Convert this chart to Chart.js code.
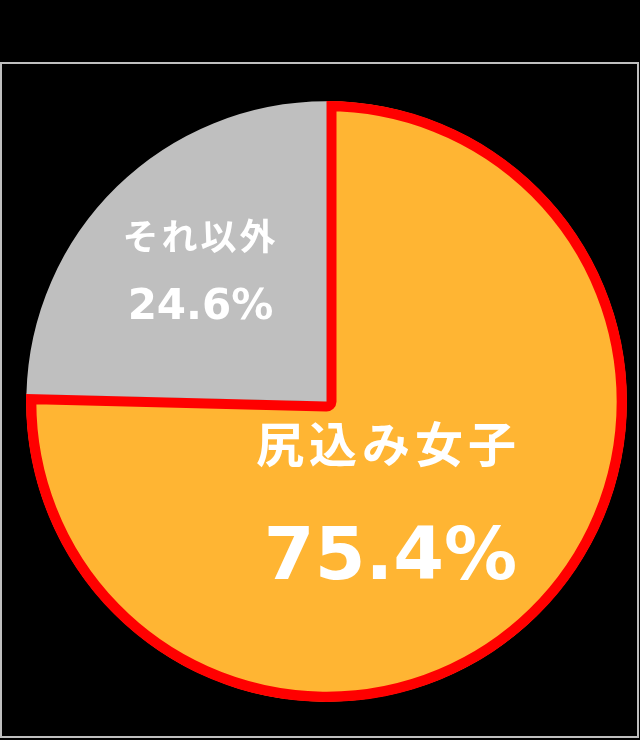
<!DOCTYPE html>
<html>
<head>
<meta charset="utf-8">
<script src="https://cdn.jsdelivr.net/npm/chart.js@4/dist/chart.umd.min.js"></script>
<style>
html,body{margin:0;padding:0;background:#000;}
#wrap{width:640px;height:740px;}
canvas{display:block;}
</style>
</head>
<body>
<div id="wrap"><canvas id="c" width="640" height="740"></canvas></div>
<script>
const categories = ["尻込み女子", "それ以外"];
const values = [75.4, 24.6];
const sliceColors = ["#FFB533", "#BFBFBF"];
const sliceBorders = ["#FF0000", "#BFBFBF"];
const sliceBorderWidths = [10, 0];

const framePlugin = {
  id: 'frame',
  beforeDraw(chart) {
    const ctx = chart.ctx;
    ctx.save();
    ctx.fillStyle = '#000';
    ctx.fillRect(0, 0, chart.width, chart.height);
    ctx.strokeStyle = '#BFBFBF';
    ctx.lineWidth = 2;
    ctx.strokeRect(1, 63, 637, 674);
    ctx.restore();
  }
};

const labelPlugin = {
  id: 'sliceLabels',
  afterDatasetsDraw(chart) {
    const ctx = chart.ctx;
    const arc = chart.getDatasetMeta(0).data[0];
    const cx = arc.x, cy = arc.y;
    const fmt = v => v.toFixed(1) + '%';
    ctx.save();
    ctx.fillStyle = '#FFFFFF';
    ctx.textAlign = 'center';
    // others
    ctx.font = 'bold 36px "Noto Sans CJK JP"';
    ctx.letterSpacing = '3px';
    ctx.textBaseline = 'middle';
    ctx.fillText(categories[1], cx - 126, cy - 165);
    ctx.letterSpacing = '0px';
    ctx.font = 'bold 42px "DejaVu Sans"';
    ctx.textBaseline = 'alphabetic';
    ctx.fillText(fmt(values[1]), cx - 126, cy - 83);
    // main
    ctx.font = 'bold 48px "Noto Sans CJK JP"';
    ctx.letterSpacing = '5px';
    ctx.textBaseline = 'middle';
    ctx.fillText(categories[0], cx + 62, cy + 42);
    ctx.letterSpacing = '0px';
    ctx.font = 'bold 73px "DejaVu Sans"';
    ctx.textBaseline = 'alphabetic';
    ctx.fillText(fmt(values[0]), cx + 64, cy + 177);
    ctx.restore();
  }
};

new Chart(document.getElementById('c'), {
  type: 'pie',
  data: {
    labels: categories,
    datasets: [{
      data: values,
      backgroundColor: sliceColors,
      borderColor: sliceBorders,
      borderWidth: sliceBorderWidths,
      borderAlign: 'inner'
    }]
  },
  options: {
    responsive: false,
    devicePixelRatio: 1,
    animation: false,
    layout: { padding: { left: 26, right: 13, top: 101, bottom: 38 } },
    plugins: {
      legend: { display: false },
      tooltip: { enabled: false },
      title: { display: false }
    }
  },
  plugins: [framePlugin, labelPlugin]
});
</script>
</body>
</html>
